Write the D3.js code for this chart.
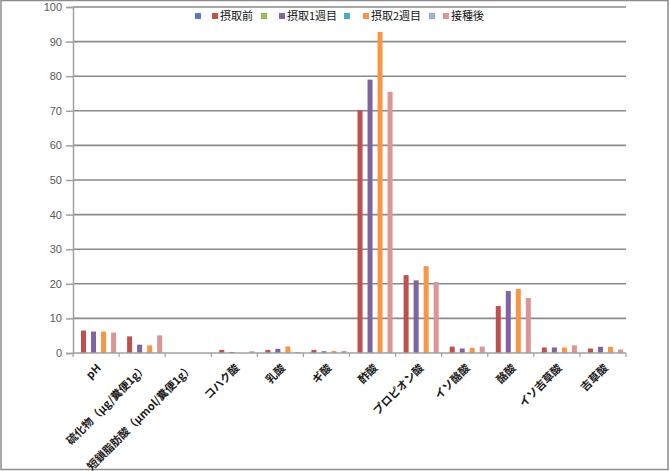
<!DOCTYPE html>
<html><head><meta charset="utf-8">
<script src="https://cdn.jsdelivr.net/npm/d3@7/dist/d3.min.js"></script>
<style>body{margin:0;background:#fff}svg{display:block}</style>
</head><body>
<script>
const categories = ["pH","硫化物（μg/糞便1g）","短鎖脂肪酸（μmol/糞便1g）","コハク酸","乳酸","ギ酸","酢酸","プロピオン酸","イソ酪酸","酪酸","イソ吉草酸","吉草酸"];
const before = [6.5, 4.8, null, 0.9, 0.9, 0.9, 70.2, 22.5, 1.85, 13.6, 1.6, 1.3];
const week1  = [6.2, 2.4, null, 0.3, 1.2, 0.5, 79.0, 21.0, 1.3, 17.9, 1.6, 1.8];
const week2  = [6.2, 2.2, null, 0.0, 1.9, 0.6, 92.8, 25.1, 1.5, 18.5, 1.6, 1.8];
const after  = [5.9, 5.1, null, 0.5, 0.3, 0.6, 75.5, 20.5, 1.85, 15.9, 2.2, 1.0];
const seriesNames = ["", "摂取前", "", "摂取1週目", "", "摂取2週目", "", "接種後"];
const seriesValues = [[], before, [], week1, [], week2, [], after];
const seriesColors = ["#4f81bd","#c0504d","#9bbb59","#8064a2","#4bacc6","#f79646","#95b3d7","#d99694"];
const yTicks = [0,10,20,30,40,50,60,70,80,90,100];

const W = 670, H = 471;
const svg = d3.select("body").append("svg").attr("width", W).attr("height", H);
svg.append("rect").attr("x",1).attr("y",0.5).attr("width",667).attr("height",469)
  .attr("fill","#fff").attr("stroke","#8c8c8c").attr("stroke-width",1.5);

const x0 = 73, x1 = 626, yTop = 7, yBot = 353;
const x = d3.scaleBand().domain(categories).range([x0, x1]).paddingInner(0).paddingOuter(0);
const xs = d3.scaleBand().domain(d3.range(seriesNames.length)).range([0, x.bandwidth()]).paddingInner(0).paddingOuter(0.6);
const y = d3.scaleLinear().domain([0,100]).range([yBot, yTop]);

// gridlines
svg.append("g").selectAll("line").data(yTicks.filter(t => t > 0)).join("line")
  .attr("x1", x0).attr("x2", x1).attr("y1", d => y(d)).attr("y2", d => y(d))
  .attr("stroke","#8a8a8a").attr("stroke-width",1.6);

// bars
seriesValues.forEach((vals, si) => {
  svg.append("g").selectAll("rect").data(vals.map((v,i)=>({v, c: categories[i]})).filter(d => d.v != null)).join("rect")
    .attr("x", d => x(d.c) + xs(si))
    .attr("width", xs.bandwidth())
    .attr("y", d => y(d.v))
    .attr("height", d => yBot - y(d.v))
    .attr("fill", seriesColors[si]);
});

// y axis
const yAxis = svg.append("g").attr("transform", `translate(${x0},0)`)
  .call(d3.axisLeft(y).tickValues(yTicks).tickSize(7).tickPadding(4));
yAxis.select(".domain").attr("stroke","#a0a0a0").attr("stroke-width",1.5);
yAxis.selectAll(".tick line").attr("stroke","#a0a0a0").attr("stroke-width",1.5);
yAxis.selectAll("text").attr("fill","#595959").style("font-family","'Liberation Sans', Arial, sans-serif").style("font-size","11px");

// x axis line and ticks
svg.append("line").attr("x1", x0).attr("x2", x1).attr("y1", yBot).attr("y2", yBot)
  .attr("stroke","#a0a0a0").attr("stroke-width",1.5);
const bounds = categories.map(c => x(c)).concat([x1]);
svg.append("g").selectAll("line").data(bounds).join("line")
  .attr("x1", d => d).attr("x2", d => d).attr("y1", yBot).attr("y2", yBot + 4)
  .attr("stroke","#a0a0a0").attr("stroke-width",1.2);

// x labels
svg.append("g").selectAll("text").data(categories).join("text")
  .attr("transform", d => `translate(${x(d) + x.bandwidth()/2 + 3},${yBot + 13}) rotate(-45)`)
  .attr("text-anchor","end").attr("dy","0.35em")
  .style("font-family","'Noto Sans CJK JP', sans-serif").style("font-size","11px").style("font-weight","bold")
  .attr("fill","#1a1a1a").text(d => d);

// legend
const legX = [195, 212, 261, 279, 344, 363, 429, 443];
const leg = svg.append("g");
seriesNames.forEach((n, i) => {
  leg.append("rect").attr("x", legX[i]).attr("y", 13).attr("width", 6).attr("height", 6).attr("fill", seriesColors[i]);
  if (n) leg.append("text").attr("x", legX[i] + 8).attr("y", 16).attr("dy","0.35em")
    .style("font-family","'Noto Sans CJK JP', sans-serif").style("font-size","11px").attr("fill","#111").text(n);
});
</script>
</body></html>
